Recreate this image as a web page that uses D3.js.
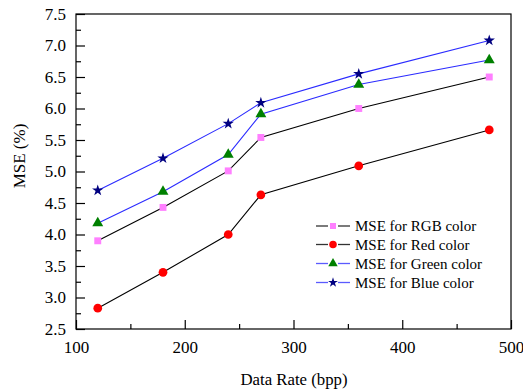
<!DOCTYPE html>
<html><head><meta charset="utf-8">
<script src="https://cdn.jsdelivr.net/npm/d3@7"></script>
<style>body{margin:0;background:#fff}svg{display:block}</style>
</head><body>
<svg id="c" width="523" height="391"></svg>
<script>
const xValues = [120, 180, 240, 270, 360, 480];
const rgbValues = [3.90, 4.43, 5.01, 5.54, 6.00, 6.50];
const redValues = [2.83, 3.40, 4.00, 4.63, 5.09, 5.66];
const greenValues = [4.18, 4.68, 5.27, 5.91, 6.38, 6.77];
const blueValues = [4.70, 5.21, 5.76, 6.09, 6.55, 7.08];
const seriesNames = ["MSE for RGB color", "MSE for Red color", "MSE for Green color", "MSE for Blue color"];
const xTicks = [100, 200, 300, 400, 500];
const yTicks = [2.5, 3.0, 3.5, 4.0, 4.5, 5.0, 5.5, 6.0, 6.5, 7.0, 7.5];

const FONT = "'Liberation Serif', 'Times New Roman', Times, serif";

const series = [
  {name: seriesNames[0], values: rgbValues, line: "#000", fill: "#ff80ff", sym: d3.symbolSquare, size: 48},
  {name: seriesNames[1], values: redValues, line: "#000", fill: "#ff0000", sym: d3.symbolCircle, size: 60},
  {name: seriesNames[2], values: greenValues, line: "#2b2bff", fill: "#008000", sym: d3.symbolTriangle, size: 52},
  {name: seriesNames[3], values: blueValues, line: "#2b2bff", fill: "#000080", sym: d3.symbolStar, size: 40}
];

const svg = d3.select("#c");
const L = 76, R = 511, T = 14, B = 329;
const x = d3.scaleLinear().domain([100, 500]).range([L, R]);
const y = d3.scaleLinear().domain([2.5, 7.5]).range([B, T]);

svg.append("rect").attr("x", L).attr("y", T).attr("width", R - L).attr("height", B - T)
  .attr("fill", "none").attr("stroke", "#000").attr("stroke-width", 1.2);

const xMinor = d3.range(150, 500, 100);
const gx = svg.append("g").attr("transform", `translate(0,${B})`)
  .call(d3.axisBottom(x).tickValues(xTicks).tickSizeInner(-9).tickSizeOuter(0).tickFormat(d3.format("d")).tickPadding(12));
gx.select(".domain").remove();
gx.selectAll("text").style("font-family", FONT).style("font-size", "17px").attr("fill", "#000");
gx.selectAll("line").attr("stroke-width", 1.2);
const gxm = svg.append("g").attr("transform", `translate(0,${B})`)
  .call(d3.axisBottom(x).tickValues(xMinor).tickSizeInner(-5).tickSizeOuter(0).tickFormat(""));
gxm.select(".domain").remove();
gxm.selectAll("line").attr("stroke-width", 1.2);

const yMinor = d3.range(2.75, 7.5, 0.5);
const gy = svg.append("g").attr("transform", `translate(${L},0)`)
  .call(d3.axisLeft(y).tickValues(yTicks).tickSizeInner(-9).tickSizeOuter(0).tickFormat(d3.format(".1f")).tickPadding(10));
gy.select(".domain").remove();
gy.selectAll("text").style("font-family", FONT).style("font-size", "17px").attr("fill", "#000");
gy.selectAll("line").attr("stroke-width", 1.2);
const gym = svg.append("g").attr("transform", `translate(${L},0)`)
  .call(d3.axisLeft(y).tickValues(yMinor).tickSizeInner(-5).tickSizeOuter(0).tickFormat(""));
gym.select(".domain").remove();
gym.selectAll("line").attr("stroke-width", 1.2);

svg.append("text").attr("x", 294).attr("y", 385).attr("text-anchor", "middle")
  .style("font-family", FONT).style("font-size", "16.8px").text("Data Rate (bpp)");
svg.append("text").attr("transform", `translate(25,156) rotate(-90)`).attr("text-anchor", "middle")
  .style("font-family", FONT).style("font-size", "17px").text("MSE (%)");

const line = d3.line().x((d, i) => x(xValues[i])).y(d => y(d));
series.forEach(s => {
  svg.append("path").attr("d", line(s.values)).attr("fill", "none").attr("stroke", s.line).attr("stroke-width", 1.1);
});
series.forEach(s => {
  svg.selectAll(null).data(s.values).enter().append("path")
    .attr("d", d3.symbol().type(s.sym).size(s.size))
    .attr("transform", (d, i) => `translate(${x(xValues[i])},${y(d)})`)
    .attr("fill", s.fill);
});

const lg = svg.append("g");
const legY = [226, 244.5, 263.5, 282.5];
series.forEach((s, i) => {
  const yy = legY[i];
  const lc = s.line === "#000" ? "#333" : "#5b5bff";
  lg.append("line").attr("x1", 316).attr("x2", 328).attr("y1", yy).attr("y2", yy).attr("stroke", lc).attr("stroke-width", 1.3);
  lg.append("line").attr("x1", 338).attr("x2", 350).attr("y1", yy).attr("y2", yy).attr("stroke", lc).attr("stroke-width", 1.3);
  lg.append("path").attr("d", d3.symbol().type(s.sym).size(s.size * 0.75)).attr("transform", `translate(333,${yy})`).attr("fill", s.fill);
  lg.append("text").attr("x", 355).attr("y", yy + 5).style("font-family", FONT).style("font-size", "15px").text(s.name);
});
</script>
</body></html>
